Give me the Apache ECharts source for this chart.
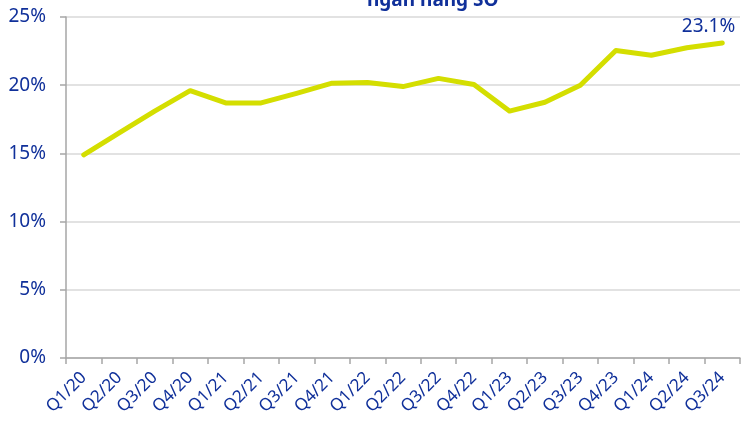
<!DOCTYPE html>
<html>
<head>
<meta charset="utf-8">
<script src="https://cdn.jsdelivr.net/npm/echarts@6/dist/echarts.min.js"></script>
<style>
  html, body { margin: 0; padding: 0; background: #fff; }
  #chart { width: 746px; height: 421px; }
</style>
</head>
<body>
<div id="chart"></div>
<script>
// du lieu doc tu hinh
const quarters = ['Q1/20', 'Q2/20', 'Q3/20', 'Q4/20', 'Q1/21', 'Q2/21', 'Q3/21', 'Q4/21',
  'Q1/22', 'Q2/22', 'Q3/22', 'Q4/22', 'Q1/23', 'Q2/23', 'Q3/23', 'Q4/23', 'Q1/24', 'Q2/24', 'Q3/24'];
const ratio = [14.9, 16.5, 18.1, 19.6, 18.7, 18.7, 19.4, 20.15, 20.2, 19.9, 20.5, 20.05,
  18.1, 18.75, 20.0, 22.55, 22.2, 22.75, 23.1];
const yTicks = [0, 5, 10, 15, 20, 25];

const NAVY = '#10309a';
const FONT = 'Noto Sans';

const chart = echarts.init(document.getElementById('chart'), null, { renderer: 'canvas' });

// chi hien nhan o diem cuoi
const seriesData = ratio.map((v, i) => i === ratio.length - 1
  ? { value: v, label: { show: true, position: [-40, -25], formatter: p => p.value.toFixed(1) + '%' } }
  : v);

chart.setOption({
  backgroundColor: '#fff',
  animation: false,
  textStyle: { fontFamily: FONT },
  title: {
    text: 'ngân hàng SO',
    left: 362,
    top: -14,
    textStyle: { color: NAVY, fontSize: 19, fontWeight: 'bold', fontFamily: FONT },
  },
  grid: { left: 66, right: 6, top: 17, bottom: 63, containLabel: false },
  xAxis: {
    type: 'category',
    data: quarters,
    boundaryGap: true,
    axisLine: { lineStyle: { color: '#a6a6a6', width: 1.5 } },
    axisTick: { show: true, length: 6, lineStyle: { color: '#a6a6a6', width: 1.5 } },
    axisLabel: { color: NAVY, fontSize: 17, rotate: 45, margin: 17, fontFamily: FONT, interval: 0 },
  },
  yAxis: {
    type: 'value',
    min: yTicks[0],
    max: yTicks[yTicks.length - 1],
    interval: 5,
    axisLine: { show: true, lineStyle: { color: '#a6a6a6', width: 1.5 } },
    axisTick: { show: true, length: 6, lineStyle: { color: '#a6a6a6', width: 1.5 } },
    axisLabel: { color: NAVY, fontSize: 19, margin: 20, fontFamily: FONT, formatter: v => v + '%' },
    splitLine: { show: true, lineStyle: { color: '#d9d9d9', width: 1.5 } },
  },
  series: [{
    type: 'line',
    data: seriesData,
    symbol: 'circle',
    symbolSize: 1,
    showSymbol: true,
    lineStyle: { color: '#d4de00', width: 5, cap: 'round', join: 'round' },
    itemStyle: { color: 'rgba(0,0,0,0)', borderWidth: 0 },
    label: { color: NAVY, fontSize: 19, fontFamily: FONT },
    labelLayout: { hideOverlap: false },
  }],
});
</script>
</body>
</html>
